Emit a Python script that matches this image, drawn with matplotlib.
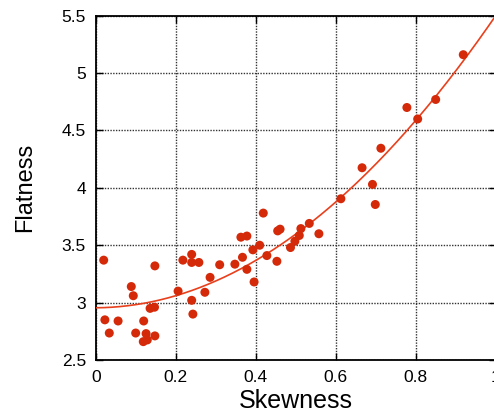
import matplotlib
matplotlib.use('Agg')
import matplotlib.pyplot as plt
import numpy as np

plt.rcParams['font.family'] = ['Liberation Sans', 'DejaVu Sans']

# skewness / flatness pairs
skewness = [0.020, 0.148, 0.089, 0.094, 0.206, 0.136, 0.147, 0.023, 0.056, 0.120,
            0.034, 0.100, 0.126, 0.148, 0.129, 0.119, 0.419, 0.363, 0.378, 0.410,
            0.393, 0.240, 0.218, 0.240, 0.258, 0.310, 0.348, 0.367, 0.428, 0.378,
            0.286, 0.273, 0.396, 0.240, 0.243, 0.692, 0.699, 0.613, 0.455, 0.461,
            0.513, 0.534, 0.558, 0.509, 0.498, 0.487, 0.453, 0.919, 0.850, 0.778,
            0.805, 0.713, 0.666]
flatness = [3.37, 3.32, 3.14, 3.06, 3.10, 2.95, 2.96, 2.85, 2.84, 2.84,
            2.735, 2.735, 2.73, 2.71, 2.675, 2.66, 3.78, 3.57, 3.58, 3.50,
            3.46, 3.42, 3.37, 3.35, 3.35, 3.33, 3.335, 3.395, 3.41, 3.29,
            3.22, 3.09, 3.18, 3.02, 2.90, 4.03, 3.855, 3.905, 3.625, 3.64,
            3.645, 3.69, 3.60, 3.585, 3.535, 3.48, 3.36, 5.16, 4.77, 4.70,
            4.60, 4.345, 4.175]

# quadratic fit curve coefficients (c0 + c1 x + c2 x^2)
fit_coef = [2.955, 0.02, 2.525]

x_ticks = [0, 0.2, 0.4, 0.6, 0.8, 1]
x_labels = ['0', '0.2', '0.4', '0.6', '0.8', '1']
y_ticks = [2.5, 3, 3.5, 4, 4.5, 5, 5.5]
y_labels = ['2.5', '3', '3.5', '4', '4.5', '5', '5.5']

fig = plt.figure(figsize=(4.94, 4.16), dpi=100)
ax = fig.add_axes([0.1937, 0.1346, 0.8097, 0.8277])

xx = np.linspace(0, 1, 200)
yy = fit_coef[0] + fit_coef[1] * xx + fit_coef[2] * xx ** 2
ax.plot(xx, yy, color='#e8401c', lw=1.2, zorder=3)
ax.scatter(skewness, flatness, s=42, color='#d42a0a', edgecolors='none', zorder=4)

ax.set_xlim(0, 1)
ax.set_ylim(2.5, 5.5)
ax.set_xticks(x_ticks)
ax.set_xticklabels(x_labels)
ax.set_yticks(y_ticks)
ax.set_yticklabels(y_labels)
ax.grid(True, color='#333333', linestyle=(0, (1, 1)), linewidth=1.0)
ax.tick_params(direction='in', top=True, right=True, labelsize=12.5, length=5, width=1, pad=7)
for s in ax.spines.values():
    s.set_linewidth(1.3)

ax.set_xlabel('Skewness', fontsize=18, labelpad=3)
ax.set_ylabel('Flatness', fontsize=17, labelpad=18)

fig.savefig('out.png', dpi=100)
